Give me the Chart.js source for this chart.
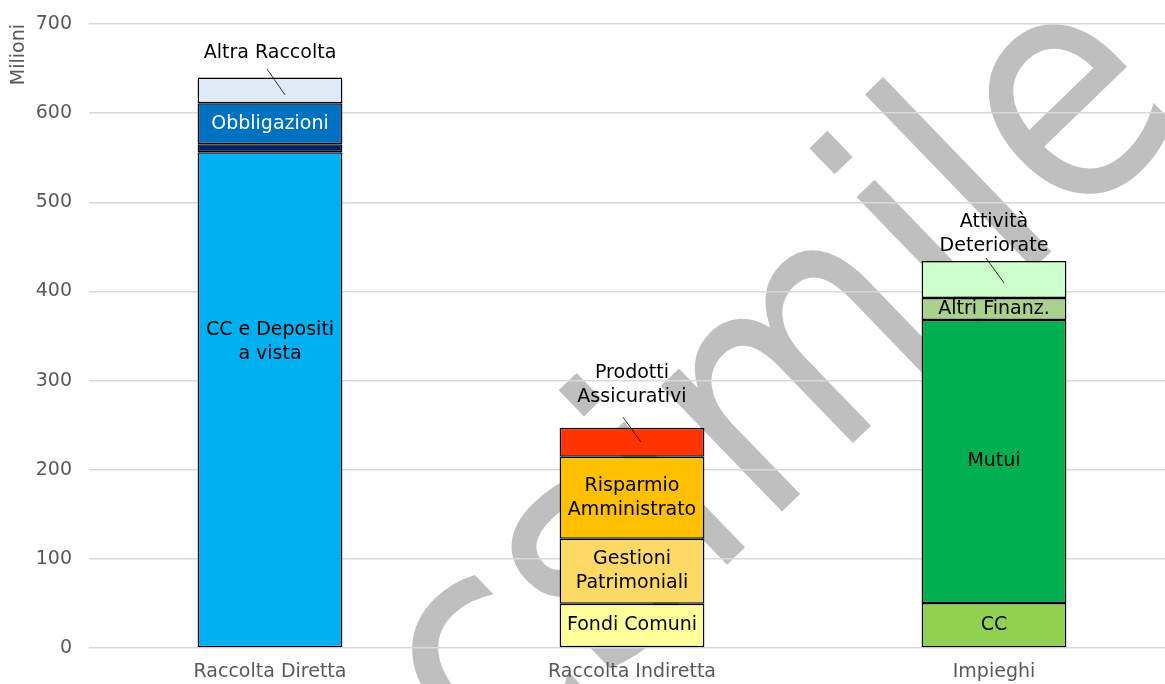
<!DOCTYPE html>
<html lang="it">
<head>
<meta charset="utf-8">
<title>Raccolta e Impieghi</title>
<script src="https://cdn.jsdelivr.net/npm/chart.js@4.4.1/dist/chart.umd.min.js"></script>
<style>
  html, body { margin: 0; padding: 0; background: #fff; overflow: hidden; }
  #wrap { width: 1176px; height: 684px; }
</style>
</head>
<body>

<div id="wrap"><canvas id="raccoltaChart"></canvas></div>

<script>
// categorie asse X
const categorie = ['Raccolta Diretta', 'Raccolta Indiretta', 'Impieghi'];

// Raccolta Diretta (milioni) - dal basso verso l'alto
const vociDiretta = ['CC e Depositi\na vista', 'Altro', 'Obbligazioni', 'Altra Raccolta'];
const valoriDiretta = [556, 9, 46, 29];

// Raccolta Indiretta
const vociIndiretta = ['Fondi Comuni', 'Gestioni\nPatrimoniali', 'Risparmio\nAmministrato', 'Prodotti\nAssicurativi'];
const valoriIndiretta = [49.5, 73, 92, 32.5];

// Impieghi
const vociImpieghi = ['CC', 'Mutui', 'Altri Finanz.', 'Attività\nDeteriorate'];
const valoriImpieghi = [50.5, 317.5, 24.5, 41.5];

// colori
const coloriDiretta = ['#00B0F0', '#002060', '#0070C0', '#DEEBF7'];
const coloriIndiretta = ['#FFFF99', '#FFD966', '#FFC000', '#FF3300'];
const coloriImpieghi = ['#92D050', '#00B050', '#A9D18E', '#CCFFCC'];

// posizione etichette (in milioni) quando non al centro del segmento
// leader: [dx1 px, valore1, dx2 px, valore2]
const etichetteSpeciali = {
  'CC e Depositi\na vista': { centro: 343 },
  'Altro': { nascosta: true },
  'Obbligazioni': { colore: '#ffffff' },
  'Altra Raccolta': { centro: 667.5, leader: [-3, 649.5, 15, 620.5] },
  'Prodotti\nAssicurativi': { centro: 295.5, leader: [-9, 259, 9, 231] },
  'Attività\nDeteriorate': { centro: 464.5, leader: [-8, 437.5, 10, 409.5] }
};

const gruppi = [
  { voci: vociDiretta, valori: valoriDiretta, colori: coloriDiretta },
  { voci: vociIndiretta, valori: valoriIndiretta, colori: coloriIndiretta },
  { voci: vociImpieghi, valori: valoriImpieghi, colori: coloriImpieghi }
];

var datasets = [];
gruppi.forEach(function (g, c) {
  g.voci.forEach(function (voce, k) {
    var data = categorie.map(function () { return null; });
    data[c] = g.valori[k];
    datasets.push({
      label: voce,
      data: data,
      cat: c,
      backgroundColor: g.colori[k],
      borderColor: '#000000',
      borderWidth: 1.5,
      borderSkipped: false,
      stack: 'totale'
    });
  });
});

// filigrana grigia sotto la griglia
const filigrana = {
  id: 'filigrana',
  beforeDraw(chart) {
    const ctx = chart.ctx;
    ctx.save();
    ctx.fillStyle = '#bfbfbf';
    ctx.font = '290px "DejaVu Sans"';
    ctx.textBaseline = 'alphabetic';
    ctx.translate(736, 556);
    ctx.rotate(-44 * Math.PI / 180);
    ctx.scale(0.96, 1.1);
    var x0 = -(ctx.measureText('Facs').width + ctx.measureText('i').width / 2);
    ctx.fillText('Facsimile', x0, 0);
    ctx.restore();
  }
};

// etichette dei segmenti
const etichette = {
  id: 'etichette',
  afterDatasetsDraw(chart) {
    const ctx = chart.ctx;
    const y = chart.scales.y;
    chart.data.datasets.forEach(function (ds, i) {
      const opt = etichetteSpeciali[ds.label] || {};
      if (opt.nascosta) return;
      const bar = chart.getDatasetMeta(i).data[ds.cat];
      if (!bar) return;
      const righe = ds.label.split('\n');
      const cy = opt.centro != null ? y.getPixelForValue(opt.centro) : (bar.y + bar.base) / 2;
      ctx.save();
      ctx.font = '19px "DejaVu Sans"';
      ctx.fillStyle = opt.colore || '#000000';
      ctx.textAlign = 'center';
      ctx.textBaseline = 'middle';
      righe.forEach(function (r, k) {
        ctx.fillText(r, bar.x, cy + (k - (righe.length - 1) / 2) * 24);
      });
      if (opt.leader) {
        ctx.strokeStyle = '#000000';
        ctx.lineWidth = 0.8;
        ctx.beginPath();
        ctx.moveTo(bar.x + opt.leader[0], y.getPixelForValue(opt.leader[1]));
        ctx.lineTo(bar.x + opt.leader[2], y.getPixelForValue(opt.leader[3]));
        ctx.stroke();
      }
      ctx.restore();
    });
  }
};

var ctx = document.getElementById('raccoltaChart').getContext('2d');
var raccoltaChart = new Chart(ctx, {
  type: 'bar',
  data: {
    labels: categorie,
    datasets: datasets
  },
  options: {
    responsive: true,
    maintainAspectRatio: false,
    animation: false,
    categoryPercentage: 1,
    barPercentage: 0.4,
    layout: { padding: { left: 8, right: 1, top: 24, bottom: 0 } },
    plugins: {
      legend: { display: false },
      tooltip: { enabled: false }
    },
    scales: {
      x: {
        stacked: true,
        grid: { display: false, drawTicks: false },
        border: { display: false },
        ticks: { color: '#595959', font: { family: 'DejaVu Sans', size: 19 }, padding: 13 },
        afterFit: function (scale) {
          scale.height = 36;
          scale.paddingLeft = 0;
          scale.paddingRight = 0;
        }
      },
      y: {
        stacked: true,
        min: 0,
        max: 700,
        border: { display: false },
        grid: { color: '#d9d9d9', lineWidth: 1.5, drawTicks: false },
        ticks: { stepSize: 100, color: '#595959', font: { family: 'DejaVu Sans', size: 19 }, padding: 17 },
        title: {
          display: true,
          text: 'Milioni',
          align: 'end',
          color: '#595959',
          font: { family: 'DejaVu Sans', size: 19 },
          padding: { top: 0, bottom: 4 }
        },
        afterFit: function (scale) {
          scale.width = 81;
          scale.paddingTop = 0;
          scale.paddingBottom = 0;
        }
      }
    }
  },
  plugins: [filigrana, etichette]
});
</script>
</body>
</html>
